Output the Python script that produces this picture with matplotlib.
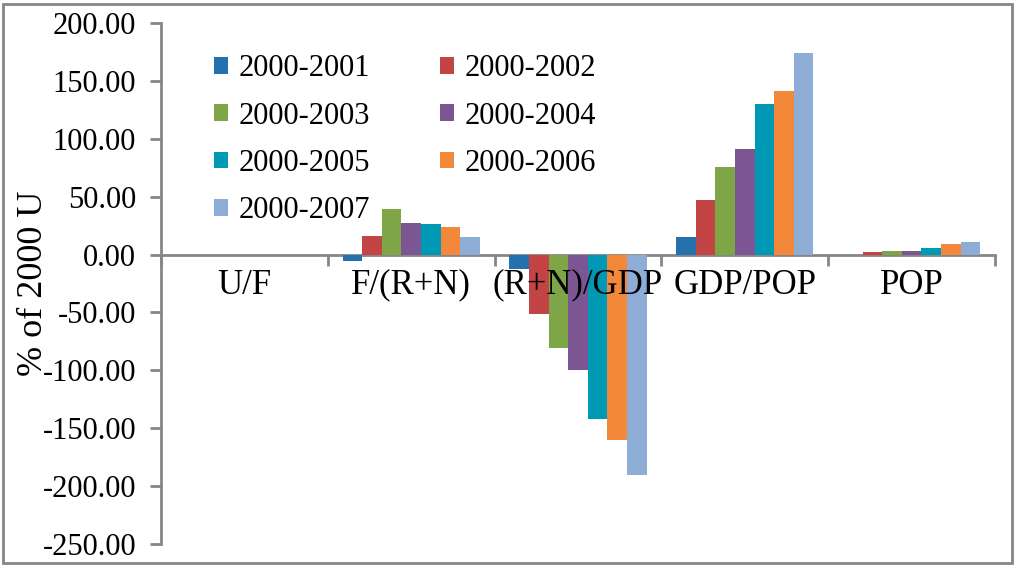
import matplotlib
matplotlib.use("Agg")
import matplotlib.pyplot as plt
from matplotlib.patches import Rectangle
import numpy as np

plt.rcParams['font.family'] = ['Liberation Serif', 'DejaVu Serif']

categories = ['U/F', 'F/(R+N)', '(R+N)/GDP', 'GDP/POP', 'POP']
periods = ['2000-2001', '2000-2002', '2000-2003', '2000-2004',
           '2000-2005', '2000-2006', '2000-2007']
colors = ['#2471AE', '#C34445', '#7EA646', '#7B5693',
          '#0099B5', '#F3873A', '#8DADD6']

# one list per category, values for each period
uf = [0.0, 0.0, 0.0, 0.0, 0.0, 0.0, 0.0]
f_rn = [-5.5, 16.0, 39.0, 27.0, 26.0, 24.0, 15.5]
rn_gdp = [-12.5, -51.5, -81.0, -100.0, -142.0, -160.0, -190.0]
gdp_pop = [15.5, 47.5, 76.0, 91.0, 130.0, 141.0, 174.0]
pop = [0.0, 2.0, 3.5, 3.5, 5.5, 9.0, 10.5]

values = np.array([uf, f_rn, rn_gdp, gdp_pop, pop])

fig = plt.figure(figsize=(10.24, 5.70), dpi=100)
ax = fig.add_axes([161 / 1024, 1 - 544 / 570, 834 / 1024, 521 / 570])

n = len(periods)
x = np.arange(len(categories))
w = 1 / (n + 1.5)
bars = []
for i, p in enumerate(periods):
    b = ax.bar(x + (i - (n - 1) / 2) * w, values[:, i], width=w,
               color=colors[i], linewidth=0, label=p, zorder=2)
    bars.append(b)

ax.set_xlim(-0.5, len(categories) - 0.5)
ax.set_ylim(-250, 200)
ax.set_yticks(np.arange(-250, 201, 50))
ax.set_yticklabels(['%.2f' % v for v in np.arange(-250, 201, 50)], fontsize=22)
ax.set_ylabel('% of 2000 U', fontsize=26)
ax.yaxis.set_label_coords(-0.133, 0.5)

# x axis sits on the zero line, ticks between categories
gray = '#868686'
ax.spines['bottom'].set_position(('data', 0))
for s in ['top', 'right']:
    ax.spines[s].set_visible(False)
for s in ['left', 'bottom']:
    ax.spines[s].set_color(gray)
    ax.spines[s].set_linewidth(2)
    ax.spines[s].set_zorder(1)
ax.set_xticks(np.arange(-0.5, len(categories), 1))
ax.set_xticklabels([])
ax.tick_params(axis='x', direction='out', length=8, width=2, color=gray)
ax.tick_params(axis='y', direction='out', length=8, width=2, color=gray, pad=10)

# category names under the zero line, drawn above the bars
for xi, name in zip(x, categories):
    ax.annotate(name, xy=(xi, 0), xytext=(0, -22), textcoords='offset points',
                ha='center', va='center', fontsize=25, zorder=5,
                annotation_clip=False)

# legend row by row: reorder for column-major fill
order = [0, 2, 4, 6, 1, 3, 5]
leg = ax.legend([bars[i] for i in order], [periods[i] for i in order],
                ncol=2, loc='upper left', bbox_to_anchor=(0.063, 0.94),
                frameon=False, fontsize=22, handlelength=0.46, handleheight=0.46,
                handletextpad=0.35, columnspacing=2.3, labelspacing=0.6,
                borderpad=0, borderaxespad=0)

fig.patches.append(Rectangle((3 / 1024, 1 - 563 / 570), 1009 / 1024, 559 / 570,
                             transform=fig.transFigure, fill=False,
                             edgecolor=gray, linewidth=2))

fig.savefig('out.png', dpi=100)
